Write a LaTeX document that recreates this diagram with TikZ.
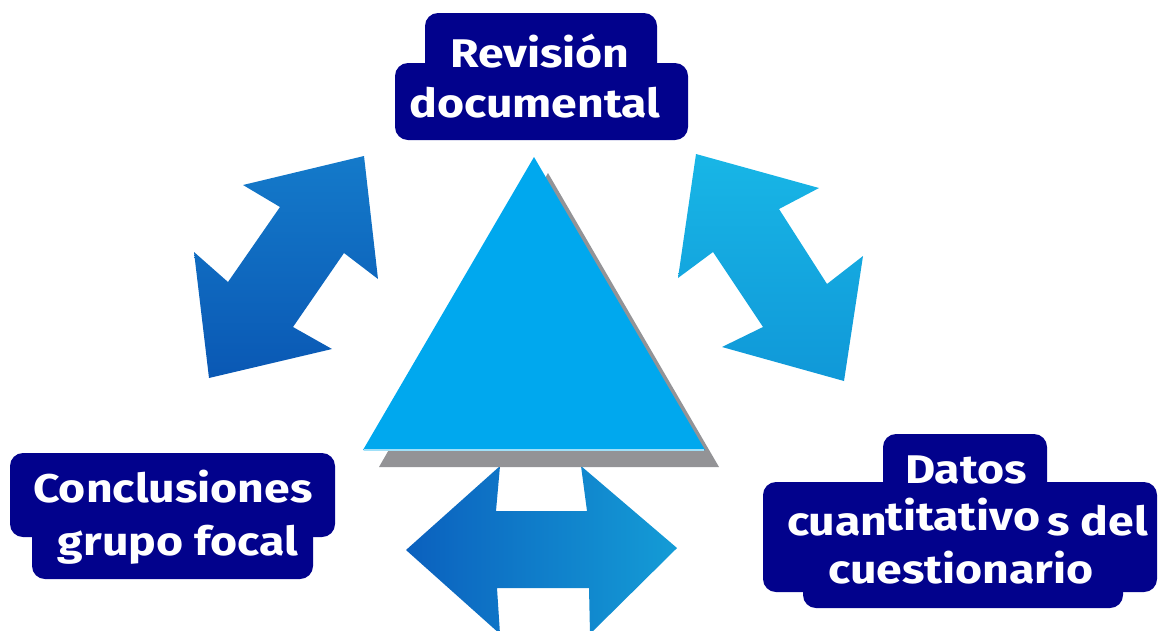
\documentclass[tikz,border=0pt]{standalone}
\usepackage{fontspec}
\setmainfont{Fira Sans}[FakeStretch=1.16]
\definecolor{navy}{RGB}{2,2,140}
\definecolor{triblue}{RGB}{0,168,238}
\definecolor{trishadow}{RGB}{147,147,150}
\definecolor{triedge}{RGB}{160,224,248}
\definecolor{ldTop}{RGB}{20,122,202}
\definecolor{ldBot}{RGB}{10,88,180}
\definecolor{rdTop}{RGB}{24,182,230}
\definecolor{rdBot}{RGB}{16,152,216}
\definecolor{hLeft}{RGB}{11,96,190}
\definecolor{hRight}{RGB}{20,156,214}
\tikzset{
  lbl/.style={text=white, font=\bfseries\fontsize{40}{48}\selectfont, inner sep=0pt, anchor=base},
  lblw/.style={lbl, anchor=base west},
  boxfill/.style={fill=navy, rounded corners=13pt},
}
\begin{document}
\begin{tikzpicture}[x=1pt,y=-1pt]
\useasboundingbox (0,0) rectangle (1158,630);
\clip (0,0) rectangle (1158,630);
% left diagonal double arrow
\shade[top color=ldTop, bottom color=ldBot]
  (364,156) -- (243,185) -- (280,207) -- (228,282) -- (194,252) -- (209,378)
  -- (332,349) -- (293,327) -- (344,253) -- (378,279) -- cycle;
% right diagonal double arrow
\shade[top color=rdTop, bottom color=rdBot]
  (696,154) -- (819,188) -- (779,209) -- (827,284) -- (863,256) -- (844,381)
  -- (722,347) -- (763,327) -- (713,252) -- (678,278) -- cycle;
% bottom horizontal double arrow
\shade[left color=hLeft, right color=hRight]
  (406,550) -- (500,466) -- (496,511) -- (587,511) -- (581,466) -- (677,548)
  -- (590,634) -- (589,588) -- (497,588) -- (500,634) -- cycle;
% triangle shadow and triangle
\fill[trishadow] (548,173) -- (719,467) -- (379,467) -- cycle;
\fill[triblue] (534,157) -- (705,450) -- (363,450) -- cycle;
\draw[triedge, line width=2pt] (364,450) -- (704,450);
% boxes
\fill[boxfill] (425,13) rectangle (657,100);
\fill[boxfill] (395,63) rectangle (688,140);
\fill[boxfill] (10,453) rectangle (335,537);
\fill[boxfill] (32,500) rectangle (313,579);
\fill[boxfill] (883,434) rectangle (1047,500);
\fill[boxfill] (763,482) rectangle (1157,592);
\fill[boxfill] (803,560) rectangle (1123,608);
% labels
\node[lbl] (rev1) at (540,67) {Revisión};
\node[lbl] (rev2) at (535,117) {documental};
\node[lbl] (con1) at (173,502) {Conclusiones};
\node[lbl] (con2) at (178,555) {grupo focal};
\node[lbl] (dat1) at (966,483) {Datos};
\node[lblw] (dat2a) at (787,535) {cuan};
\node[lblw] (dat2b) at (885,530) {titativo};
\node[lblw] (dat2c) at (1047,535) {s del};
\node[lbl] (dat3) at (961,583) {cuestionario};
\end{tikzpicture}
\end{document}
